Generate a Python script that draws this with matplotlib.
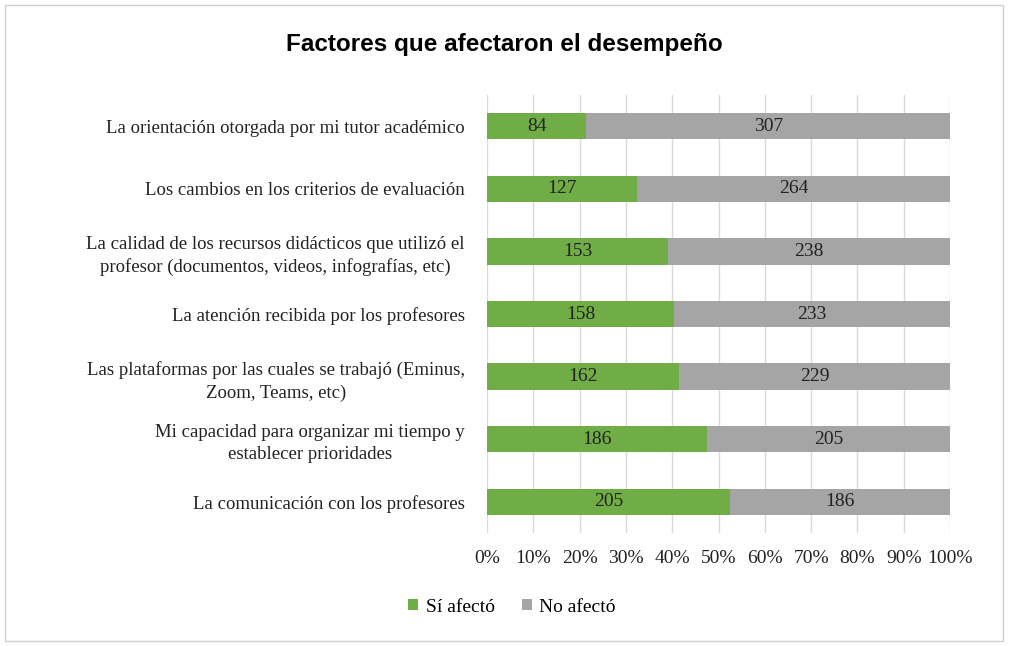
import matplotlib.pyplot as plt
import matplotlib.patches as mpatches
import numpy as np

# categories top to bottom
factores = [
    "La orientación otorgada por mi tutor académico",
    "Los cambios en los criterios de evaluación",
    "La calidad de los recursos didácticos que utilizó el\nprofesor (documentos, videos, infografías, etc)",
    "La atención recibida por los profesores",
    "Las plataformas por las cuales se trabajó (Eminus,\nZoom, Teams, etc)",
    "Mi capacidad para organizar mi tiempo y\nestablecer prioridades",
    "La comunicación con los profesores",
]
si_afecto = [84, 127, 153, 158, 162, 186, 205]
no_afecto = [307, 264, 238, 233, 229, 205, 186]

verde = "#70AD47"
gris = "#A5A5A5"
serif = "Liberation Serif"

fig = plt.figure(figsize=(10.09, 6.46), dpi=100)
ax = fig.add_axes([487 / 1009, 1 - 533 / 646, (950 - 487) / 1009, (533 - 95) / 646])

si = np.array(si_afecto, dtype=float)
no = np.array(no_afecto, dtype=float)
total = si + no
y = np.arange(len(factores))

b1 = ax.barh(y, si / total, height=0.42, color=verde, label="Sí afectó", zorder=3)
b2 = ax.barh(y, no / total, left=si / total, height=0.42, color=gris, label="No afectó", zorder=3)

for i in range(len(factores)):
    ax.text(si[i] / total[i] / 2, y[i], str(si_afecto[i]), ha="center", va="center",
            fontsize=14, family=serif, color="#222222", zorder=4)
    ax.text(si[i] / total[i] + no[i] / total[i] / 2, y[i], str(no_afecto[i]), ha="center", va="center",
            fontsize=14, family=serif, color="#222222", zorder=4)

ax.set_xlim(0, 1)
ax.set_ylim(len(factores) - 0.5, -0.5)
ax.set_xticks(np.linspace(0, 1, 11))
ax.set_xticklabels([f"{int(round(t * 100))}%" for t in np.linspace(0, 1, 11)],
                   fontsize=14, family=serif, color="#222222")
ax.set_yticks(y)
ax.set_yticklabels(factores, fontsize=13.5, family=serif, color="#222222",
                   linespacing=1.4, multialignment="center")
ax.tick_params(axis="both", length=0)
ax.tick_params(axis="x", pad=12)
ax.tick_params(axis="y", pad=16)
ax.grid(axis="x", color="#D9D9D9", linewidth=1, zorder=0)
for s in ax.spines.values():
    s.set_visible(False)

fig.text(0.5, 1 - 45 / 646, "Factores que afectaron el desempeño", ha="center", va="center",
         fontsize=17.5, fontweight="bold", family="Liberation Sans", color="black")

fig.legend(handles=[b1, b2], labels=["Sí afectó", "No afectó"], loc="center",
           bbox_to_anchor=(512 / 1009, 1 - 607 / 646), ncol=2, frameon=False,
           prop={"family": serif, "size": 14}, handlelength=0.5, handleheight=0.5,
           handletextpad=0.4, columnspacing=1.4)

fig.patches.append(mpatches.Rectangle((5 / 1009, 5 / 646), 998 / 1009, 636 / 646,
                                      transform=fig.transFigure, fill=False,
                                      edgecolor="#D0D0D0", linewidth=1))

fig.savefig("out.png", dpi=100)
